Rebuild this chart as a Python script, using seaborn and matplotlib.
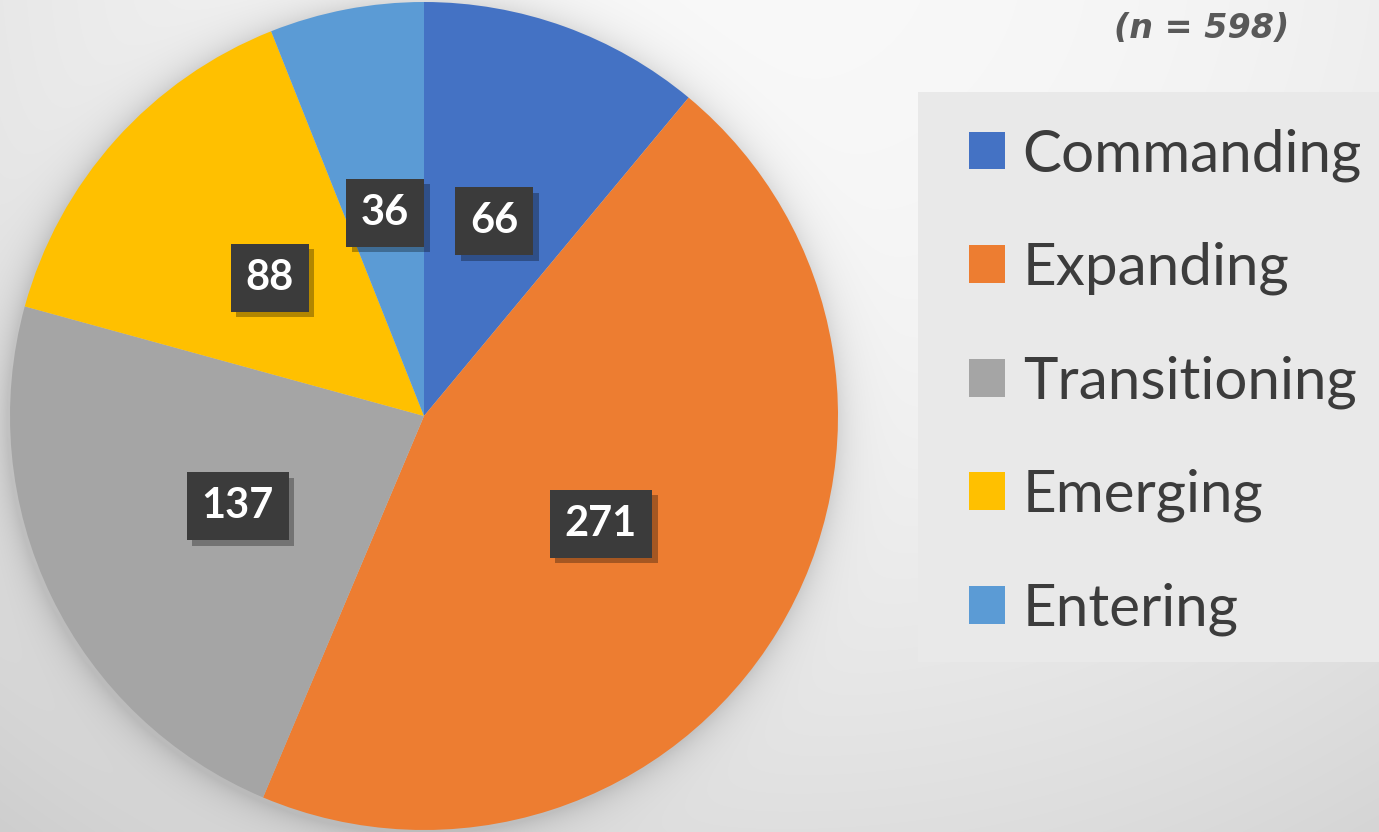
import numpy as np
import matplotlib
matplotlib.use("Agg")
import matplotlib.pyplot as plt
import matplotlib.patheffects as pe
from matplotlib.patches import Rectangle
import seaborn as sns

# Segment counts
segments = ["Commanding", "Expanding", "Transitioning", "Emerging", "Entering"]
counts = [66, 271, 137, 88, 36]
segment_colors = ["#4472C4", "#ED7D31", "#A5A5A5", "#FFC000", "#5B9BD5"]
sample_note = "(n = 598)"

sns.set_theme(style="white")
plt.rcParams["font.family"] = ["Lato", "DejaVu Sans"]

W, H = 1379, 832
fig = plt.figure(figsize=(W / 100, H / 100), dpi=100)
ax = fig.add_axes([0, 0, 1, 1])

# Soft grey backdrop, brightest near the top, with a halo shadow round the pie
cx, cy, R = 424, 416, 414
yy, xx = np.mgrid[0:H, 0:W] + 0.5
r2 = ((xx - 780) / 1100) ** 2 + ((yy + 50) / 1000) ** 2
bg = np.clip(0.975 - 0.13 * r2, 0, 1)
dist = np.hypot(xx - (cx - 3), yy - (cy + 4)) - R
shade = 0.14 * np.exp(-np.clip(dist, 0, None) / 16)
bg = bg * (1 - shade)
ax.imshow(np.dstack([bg] * 3), extent=(0, W, 0, H), origin="upper",
          zorder=0, interpolation="bilinear")

total = sum(counts)
wedges, texts, autotexts = ax.pie(
    counts,
    colors=segment_colors,
    startangle=90,
    counterclock=False,
    center=(cx, H - cy),
    radius=R,
    autopct=lambda p: f"{p * total / 100:.0f}",
    pctdistance=0.5,
    wedgeprops=dict(linewidth=0, zorder=2),
    textprops=dict(color="white", fontweight="bold", fontsize=30),
)
for t in autotexts:
    t.set_zorder(5)
    t.set_bbox(dict(boxstyle="square,pad=0.36", facecolor="#3b3b3b",
                    edgecolor="none", linewidth=0))
    t.get_bbox_patch().set_path_effects(
        [pe.SimplePatchShadow(offset=(4, -4), shadow_rgbFace="black", alpha=0.3),
         pe.Normal()])

# Legend panel
ax.add_patch(Rectangle((918, H - 662), W - 918, 570, facecolor="#e9e9e9",
                       edgecolor="none", zorder=1))
leg = ax.legend(
    wedges, segments,
    loc="upper left",
    bbox_to_anchor=(969 / W, 1 - 128 / H),
    bbox_transform=fig.transFigure,
    frameon=False,
    borderpad=0,
    borderaxespad=0,
    fontsize=42,
    handlelength=0.62,
    handleheight=0.62,
    handletextpad=0.3,
    labelspacing=1.03,
    labelcolor="#3c3c3c",
)
leg.set_zorder(6)

fig.text(1202 / W, 1 - 29 / H, sample_note, ha="center", va="center",
         fontsize=24, fontweight="bold", style="italic", color="#595959",
         family="DejaVu Sans")

ax.set_xlim(0, W)
ax.set_ylim(0, H)
ax.set_aspect("auto")
ax.axis("off")

fig.savefig("out.png", dpi=100)
